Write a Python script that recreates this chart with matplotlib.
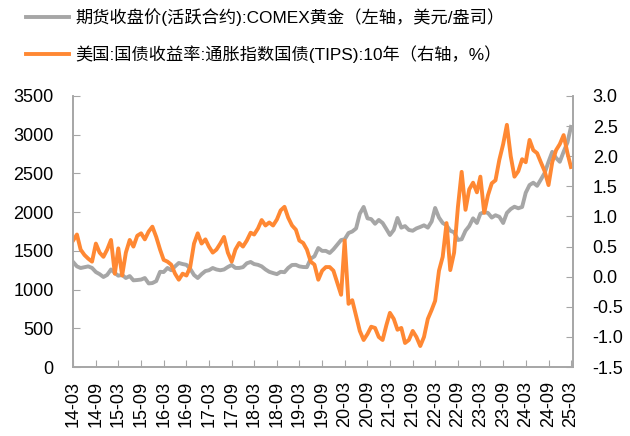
import numpy as np
import pandas as pd
import matplotlib
matplotlib.use('Agg')
import matplotlib.pyplot as plt
import matplotlib.dates as mdates

plt.rcParams['font.family'] = ['Liberation Sans', 'Noto Sans CJK SC', 'DejaVu Sans']

# 月度数据 2014-03 ~ 2025-03
dates = pd.date_range('2014-03-01', periods=133, freq='MS')

gold = [
    1357, 1300, 1279, 1290, 1300, 1280, 1227, 1200, 1163, 1190,
    1260, 1214, 1180, 1190, 1150, 1175, 1120, 1124, 1130, 1150, 1080, 1085,
    1110, 1230, 1227, 1280, 1250, 1300, 1344, 1330, 1320, 1270, 1189, 1150,
    1200, 1240, 1250, 1279, 1260, 1250, 1260, 1292, 1318, 1280, 1280, 1290,
    1340, 1357, 1330, 1320, 1300, 1260, 1230, 1214, 1200, 1230, 1225, 1280,
    1318, 1320, 1300, 1292, 1290, 1400, 1430, 1537, 1500, 1500, 1473, 1520,
    1580, 1640, 1650, 1731, 1750, 1790, 1980, 2067, 1920, 1910, 1850, 1899,
    1860, 1780, 1705, 1770, 1925, 1800, 1820, 1770, 1760, 1790, 1809, 1830,
    1800, 1880, 2054, 1930, 1860, 1830, 1760, 1740, 1641, 1650, 1760, 1820,
    1920, 1860, 1980, 2000, 1990, 1930, 1960, 1940, 1860, 1990, 2040, 2070,
    2050, 2067, 2250, 2350, 2380, 2340, 2420, 2506, 2650, 2778, 2700, 2650,
    2780, 2900, 3100,
]

tips = [
    0.60, 0.70, 0.45, 0.36, 0.30, 0.25, 0.55, 0.40, 0.33, 0.45,
    0.61, 0.05, 0.47, 0.02, 0.40, 0.61, 0.50, 0.68, 0.72, 0.62, 0.75, 0.83,
    0.66, 0.45, 0.28, 0.25, 0.20, 0.05, -0.05, 0.05, 0.02, 0.16, 0.55, 0.72,
    0.55, 0.62, 0.50, 0.40, 0.45, 0.55, 0.66, 0.40, 0.25, 0.45, 0.56, 0.50,
    0.60, 0.73, 0.70, 0.80, 0.94, 0.85, 0.90, 0.85, 0.95, 1.10, 1.16, 0.98,
    0.85, 0.78, 0.60, 0.56, 0.45, 0.25, 0.20, -0.05, 0.10, 0.16, 0.16, 0.10,
    -0.10, -0.30, 0.60, -0.45, -0.39, -0.65, -0.90, -1.05, -0.95, -0.83, -0.85, -1.00,
    -1.05, -0.80, -0.60, -0.70, -0.88, -0.85, -1.10, -1.05, -0.90, -1.00, -1.15, -1.00,
    -0.70, -0.55, -0.40, 0.10, 0.33, 0.89, 0.11, 0.40, 1.16, 1.74, 1.11, 1.45,
    1.56, 1.40, 1.66, 1.06, 1.35, 1.55, 1.60, 1.94, 2.20, 2.52, 2.00, 1.66,
    1.75, 1.95, 1.90, 2.27, 2.10, 2.05, 1.90, 1.75, 1.52, 1.90, 2.10, 2.20,
    2.35, 2.05, 1.82,
]

label_gold = '期货收盘价(活跃合约):COMEX黄金（左轴，美元/盎司）'
label_tips = '美国:国债收益率:通胀指数国债(TIPS):10年（右轴，%）'

gray = '#A6A6A6'
orange = '#FF8833'

fig = plt.figure(figsize=(6.3, 4.36), dpi=100)
ax = fig.add_axes([0.116, 0.158, 0.794, 0.622])
ax2 = ax.twinx()

l1, = ax.plot(dates, gold, color=gray, lw=2.8)
l2, = ax2.plot(dates, tips, color=orange, lw=2.8)

ax.set_ylim(0, 3500)
ax.set_yticks(np.arange(0, 3501, 500))
ax2.set_ylim(-1.5, 3.0)
ax2.set_yticks(np.arange(-1.5, 3.01, 0.5))
ax2.set_yticklabels([f'{v:.1f}' for v in np.arange(-1.5, 3.01, 0.5)])

ax.set_xlim(pd.Timestamp('2014-03-01'), pd.Timestamp('2025-03-20'))
ax.xaxis.set_major_locator(mdates.MonthLocator(bymonth=[3, 9]))
ax.xaxis.set_major_formatter(mdates.DateFormatter('%y-%m'))

for a in (ax, ax2):
    for s in a.spines.values():
        s.set_color(gray)
        s.set_linewidth(1.2)
    a.spines['top'].set_visible(False)

ax.tick_params(axis='x', direction='in', length=5, color=gray, labelsize=13, rotation=90, pad=10)
ax.tick_params(axis='y', direction='in', length=5, color=gray, labelsize=13, pad=14)
ax2.tick_params(axis='y', direction='in', length=5, color=gray, labelsize=13, pad=14)

fig.legend([l1, l2], [label_gold, label_tips], loc='upper left',
           bbox_to_anchor=(0.016, 1.017), frameon=False, fontsize=12.4,
           handlelength=2.5, handletextpad=0.37, labelspacing=1.15)

fig.savefig('out.png', dpi=100)
